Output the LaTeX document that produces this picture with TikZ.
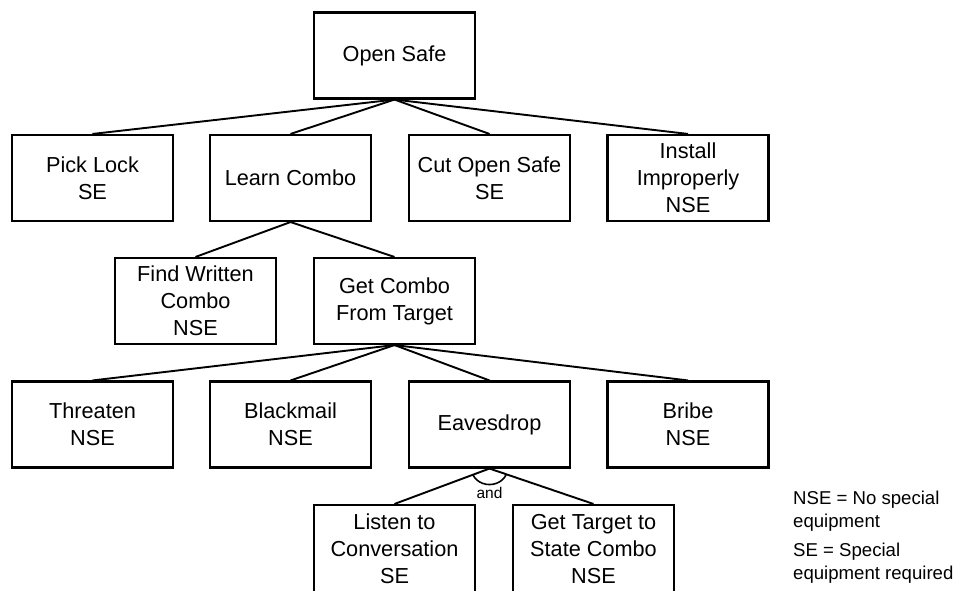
\documentclass[tikz,border=0pt]{standalone}
\usepackage{fontspec}
\setmainfont{Liberation Sans}
\begin{document}
\begin{tikzpicture}[x=1pt,y=-1pt,
  goal/.style={draw, line width=2.1pt, rectangle, minimum width=161pt, minimum height=86pt,
    inner sep=0pt, align=center, font=\fontsize{21.7}{27}\selectfont},
  link/.style={line width=1.9pt},
  legend/.style={anchor=west, align=left, inner sep=0pt, font=\fontsize{18.6}{23}\selectfont}]
\useasboundingbox (0,0) rectangle (962,590);
\clip (0,0) rectangle (962,590);

% goal boxes
\node[goal] (safe)    at (394.5,55.5)  {Open Safe};
\node[goal] (pick)    at (92.5,178)  {Pick Lock\\SE};
\node[goal] (learn)   at (290.5,178) {Learn Combo};
\node[goal] (cut)     at (489.5,178) {Cut Open Safe\\SE};
\node[goal] (install) at (688,178)   {Install\\Improperly\\NSE};
\node[goal] (find)    at (195.5,301)   {Find Written\\Combo\\NSE};
\node[goal] (target)  at (394.5,301)   {Get Combo\\From Target};
\node[goal] (threat)  at (92.5,424.5)  {Threaten\\NSE};
\node[goal] (black)   at (290.5,424.5) {Blackmail\\NSE};
\node[goal] (eaves)   at (489.5,424.5) {Eavesdrop};
\node[goal] (bribe)   at (688,424.5)   {Bribe\\NSE};
\node[goal, minimum height=88pt] (listen)  at (394.5,549)   {Listen to\\Conversation\\SE};
\node[goal, minimum height=88pt] (state)   at (593.5,549)   {Get Target to\\State Combo\\NSE};

% tree links
\foreach \c in {pick,learn,cut,install} \draw[link] (safe.south) -- (\c.north);
\foreach \c in {find,target} \draw[link] (learn.south) -- (\c.north);
\foreach \c in {threat,black,eaves,bribe} \draw[link] (target.south) -- (\c.north);
\foreach \c in {listen,state} \draw[link] (eaves.south) -- (\c.north);

% AND arc
\draw[line width=1.6pt] ([shift={(22.3:18 and 16)}]eaves.south)
  arc[start angle=22.3, end angle=155.8, x radius=18, y radius=16];
\node[inner sep=0pt, font=\fontsize{15.5}{18}\selectfont] (and) at (489.5,492.5) {and};

% legend
\node[legend] (nse) at (793,511.5) {NSE = No special\\equipment};
\node[legend] (se)  at (793,563.5) {SE = Special\\equipment required};
\end{tikzpicture}
\end{document}
